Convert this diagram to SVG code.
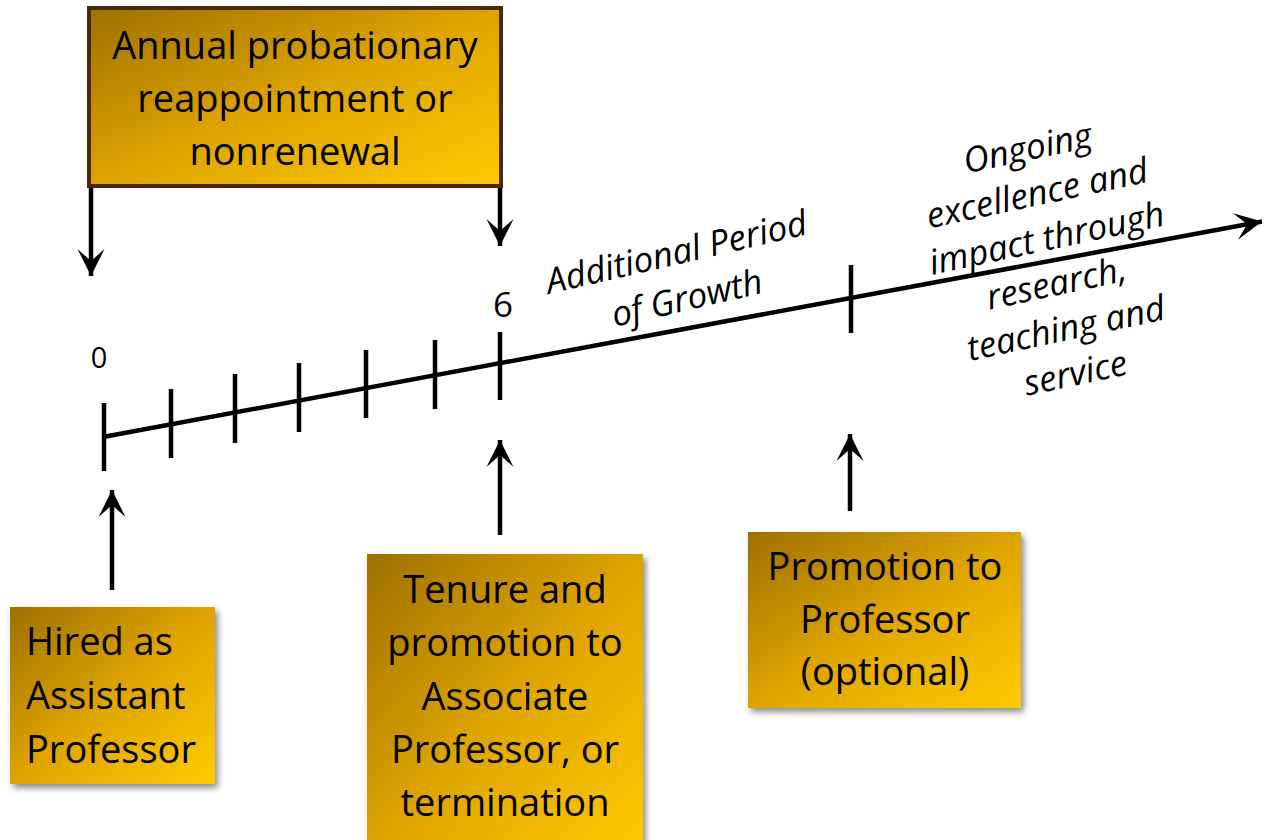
<svg xmlns="http://www.w3.org/2000/svg" width="1274" height="840" viewBox="0 0 1274 840">
<defs>
<linearGradient id="gold" x1="0" y1="0" x2="1" y2="1">
<stop offset="0" stop-color="#9e7000"/>
<stop offset="0.5" stop-color="#dea400"/>
<stop offset="1" stop-color="#ffca00"/>
</linearGradient>
<filter id="shadow" x="-10%" y="-10%" width="130%" height="130%">
<feDropShadow dx="3" dy="4" stdDeviation="3" flood-color="#000" flood-opacity="0.45"/>
</filter>
<marker id="arrow" viewBox="-28 -15 30 30" markerWidth="30" markerHeight="30" refX="0" refY="0" orient="auto" markerUnits="userSpaceOnUse">
<path d="M0,0 L-27,-13.5 L-15,0 L-27,13.5 Z" fill="#000"/>
</marker>
<style>
.box{fill:url(#gold);}
.lbl{font-family:"Open Sans",Lato,"Liberation Sans",sans-serif;font-size:38px;fill:#000;}
.ital{font-family:"Open Sans",Lato,"Liberation Sans",sans-serif;font-style:italic;font-size:35px;fill:#000;text-anchor:middle;}
.num{font-family:"Open Sans",Lato,"Liberation Sans",sans-serif;fill:#000;text-anchor:middle;}
.ln{stroke:#000;stroke-width:4.5;fill:none;}
.tick{stroke:#000;stroke-width:4.5;}
</style>
</defs>
<rect width="1274" height="840" fill="#fff"/>

<g id="connectors">
<line class="ln" x1="103" y1="437" x2="1262" y2="221.5" marker-end="url(#arrow)"/>
<line class="ln" x1="91" y1="186" x2="91" y2="276" marker-end="url(#arrow)"/>
<line class="ln" x1="500" y1="186" x2="500" y2="246" marker-end="url(#arrow)"/>
<line class="ln" x1="112" y1="590" x2="112" y2="490" marker-end="url(#arrow)"/>
<line class="ln" x1="500" y1="535" x2="500" y2="440" marker-end="url(#arrow)"/>
<line class="ln" x1="850" y1="511" x2="850" y2="434" marker-end="url(#arrow)"/>
</g>

<g id="ticks">
<line class="tick" x1="104" y1="403" x2="104" y2="471"/>
<line class="tick" x1="171" y1="389" x2="171" y2="458"/>
<line class="tick" x1="235" y1="374" x2="235" y2="443"/>
<line class="tick" x1="299" y1="363" x2="299" y2="432"/>
<line class="tick" x1="366" y1="350" x2="366" y2="418"/>
<line class="tick" x1="435" y1="340" x2="435" y2="409"/>
<line class="tick" x1="500" y1="332" x2="500" y2="400"/>
<line class="tick" x1="851" y1="265" x2="851" y2="333"/>
<text class="num" x="99" y="368" font-size="29">0</text>
<text class="num" x="503" y="317" font-size="35">6</text>
</g>

<g id="annual">
<rect x="89" y="8" width="412" height="178" class="box" stroke="#4a2800" stroke-width="4"/>
<text class="lbl" text-anchor="middle" x="295" y="59">Annual probationary</text>
<text class="lbl" text-anchor="middle" x="295" y="112">reappointment or</text>
<text class="lbl" text-anchor="middle" x="295" y="165">nonrenewal</text>
</g>

<g id="hired">
<rect x="10" y="607" width="205" height="177" class="box" filter="url(#shadow)"/>
<text class="lbl" x="26" y="655">Hired as</text>
<text class="lbl" x="26" y="709">Assistant</text>
<text class="lbl" x="26" y="763">Professor</text>
</g>

<g id="tenure">
<rect x="367" y="554" width="276" height="300" class="box" filter="url(#shadow)"/>
<text class="lbl" text-anchor="middle" x="505" y="603">Tenure and</text>
<text class="lbl" text-anchor="middle" x="505" y="656">promotion to</text>
<text class="lbl" text-anchor="middle" x="505" y="710">Associate</text>
<text class="lbl" text-anchor="middle" x="505" y="763">Professor, or</text>
<text class="lbl" text-anchor="middle" x="505" y="816">termination</text>
</g>

<g id="promotion">
<rect x="748" y="532" width="273" height="176" class="box" filter="url(#shadow)"/>
<text class="lbl" text-anchor="middle" x="885" y="580">Promotion to</text>
<text class="lbl" text-anchor="middle" x="885" y="633">Professor</text>
<text class="lbl" text-anchor="middle" x="885" y="685">(optional)</text>
</g>

<g id="growth" transform="translate(679,264) rotate(-13)">
<text class="ital" x="0" y="0">Additional Period</text>
<text class="ital" x="0" y="47">of Growth</text>
</g>

<g id="ongoing" transform="translate(1030,160) rotate(-12)">
<text class="ital" x="0" y="0">Ongoing</text>
<text class="ital" x="0" y="46">excellence and</text>
<text class="ital" x="0" y="92">impact through</text>
<text class="ital" x="0" y="138">research,</text>
<text class="ital" x="0" y="184">teaching and</text>
<text class="ital" x="0" y="230">service</text>
</g>
</svg>
